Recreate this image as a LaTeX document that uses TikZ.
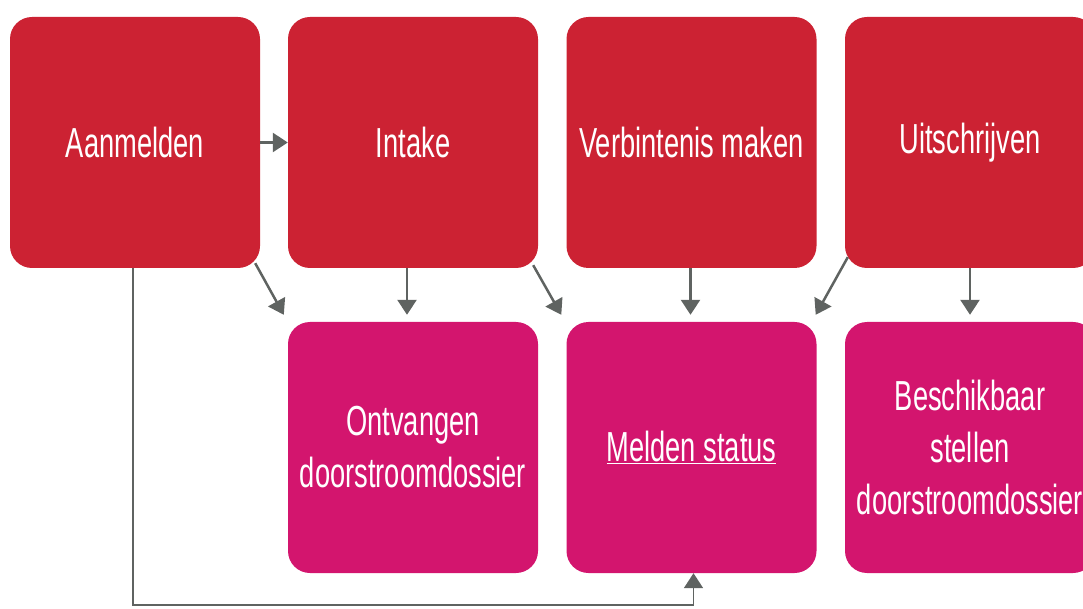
\documentclass[tikz,border=0pt]{standalone}
\usepackage{fontspec}
\setmainfont{Liberation Sans}[FakeStretch=0.65]
\usepackage{tikz}
\usetikzlibrary{positioning, arrows.meta, calc}
\definecolor{stapred}{HTML}{CC2233}
\definecolor{dienstpink}{HTML}{D3156E}
\definecolor{pijlgray}{HTML}{5F6361}

\begin{document}
\begin{tikzpicture}[x=1pt, y=1pt,
  stap/.style={fill=stapred, rounded corners=22pt, minimum width=250pt, minimum height=251pt,
    inner sep=0pt, text=white, align=center, font=\fontsize{42}{52}\selectfont},
  dienst/.style={stap, fill=dienstpink},
  pijl/.style={draw=pijlgray, line width=2.5pt, -{Triangle[length=15pt,width=19pt]}}]
\useasboundingbox (0,0) rectangle (1083,608);
\clip (0,0) rectangle (1083,608);

% process steps (top row)
\node[stap] (A) at (135,465.5) {Aanmelden};
\node[stap] (I) at (413,465.5) {Intake};
\node[stap] (V) at (691.5,465.5) {Verbintenis maken};
\node[stap] (U) at (970,465.5) {Uitschrijven};

% services (bottom row)
\node[dienst] (O) at (413,160.5) {Ontvangen\\doorstroomdossier};
\node[dienst] (M) at (691.5,160.5) {\underline{Melden status}};
\node[dienst] (B) at (970,160.5) {Beschikbaar\\stellen\\doorstroomdossier};

% arrows
\draw[pijl] (A.east) -- (I.west);
\draw[pijl] ($(A.south east)+(-5,5)$) -- ($(O.north west)+(-4,7)$);
\draw[pijl] ($(I.south)+(-6,0)$) -- ($(O.north)+(-6,7)$);
\draw[pijl] ($(I.south east)+(-5,3)$) -- ($(M.north west)+(-5,7)$);
\draw[pijl] ($(V.south)+(-1,0)$) -- ($(M.north)+(-1,7)$);
\draw[pijl] ($(U.south west)+(3,11)$) -- ($(M.north east)+(-1,7)$);
\draw[pijl] (U.south) -- ($(U.south)!1!(B.north)+(0,7)$);

% from Aanmelden round the bottom to Melden status
\coordinate (hoek) at ($(A.south)+(-2,-337)$);
\draw[pijl, line width=1.8pt] ($(A.south)+(-2,0)$) -- (hoek) -| ($(M.south)+(2,0)$);
\end{tikzpicture}
\end{document}
